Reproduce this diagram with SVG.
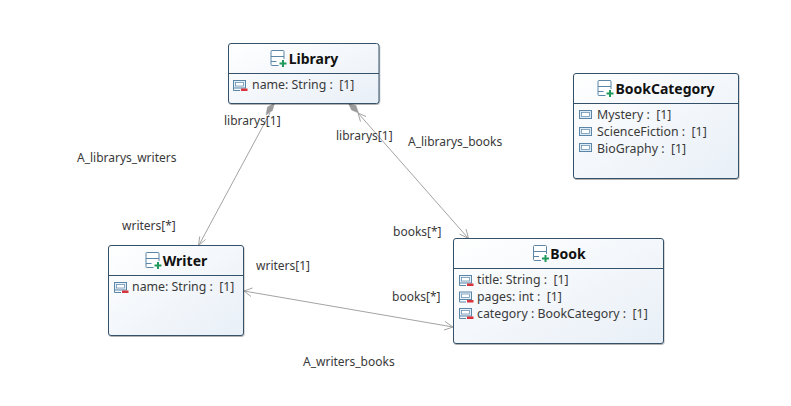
<svg xmlns="http://www.w3.org/2000/svg" width="791" height="406" viewBox="0 0 791 406">
<style>
text{font-family:"Noto Sans","Open Sans","Liberation Sans",sans-serif;fill:#3a3a3a;white-space:pre}
.lbl{font-size:12px}
.attr{font-size:12.350px}
.title{font-size:14px;font-weight:700;fill:#111;text-anchor:middle}
.box{fill:url(#g);stroke:#34516b;stroke-width:1}
.sep{stroke:#34516b;stroke-width:1}
.conn{stroke:#a3a3a3;stroke-width:1;fill:none}
.head{stroke:#a3a3a3;stroke-width:1;fill:none}
.dia{fill:#9a9a9a;stroke:#9a9a9a;stroke-width:.5}
</style>
<defs>
<linearGradient id="g" x1="0" y1="0" x2="1" y2="1"><stop offset="0" stop-color="#fff"/><stop offset="1" stop-color="#e8eff7"/></linearGradient>
<filter id="s" x="-5%" y="-5%" width="110%" height="110%"><feDropShadow dx="0.5" dy="1" stdDeviation="0.7" flood-color="#000" flood-opacity=".3"/></filter>
<g id="classIcon"><path d="M13.500 9V1.500a1 1 0 0 0-1-1H1.500a1 1 0 0 0-1 1V14.500a1 1 0 0 0 1 1H8" fill="#fff" stroke="#5b86a8"/><path d="M.5 6.500H13.500M.5 11.500H6" stroke="#5b86a8" fill="none"/><path d="M11.500 10h2v2.500H16v2h-2.500V17h-2v-2.500H9v-2h2.500z" fill="#1f9a5a"/></g>
<g id="attrIcon"><rect x=".5" y=".5" width="12" height="7.500" fill="#e6f0f8" stroke="#5b86a8"/><rect x="2.500" y="2.500" width="8" height="3.500" fill="#fff" stroke="#5b86a8" stroke-width=".7"/><path d="M.5 8v2.500H7" fill="none" stroke="#5b86a8"/><rect x="8" y="8.500" width="6.500" height="2.500" fill="#d8343c"/></g>
<g id="litIcon"><rect x=".5" y=".5" width="12" height="8" fill="#dcebf6" stroke="#5b86a8"/><rect x="2.500" y="2.500" width="8" height="4" fill="#fff" stroke="#5b86a8" stroke-width=".7"/></g>
</defs>
<rect width="791" height="406" fill="#fff"/>
<g id="connectors">
<path class="conn" d="M270 113L199 245"/>
<path class="dia" d="M274.500 103L267.500 107L266 115L272.500 110.500Z"/>
<path class="head" d="M199.700 236.500L198.500 245.500L205.500 239.500"/>
<path class="conn" d="M358 113L468 238"/>
<path class="dia" d="M348.500 103.500L356 105.500L358.500 113L351.500 110Z"/>
<path class="head" d="M366 116.500L358 113L360.500 121.500"/>
<path class="head" d="M459.500 234L468.500 238.500L466 229"/>
<path class="conn" d="M244 291L453 327"/>
<path class="head" d="M252.500 288L244 291L251 296.500"/>
<path class="head" d="M445 321.500L453 327L444 330"/>
</g>
<g id="Library"><rect class="box" x="228.500" y="43.500" width="150.500" height="60" rx="2.500" filter="url(#s)"/><path class="sep" d="M229 73.500H379"/><use href="#classIcon" x="270.500" y="50"/><text class="title" x="313.500" y="64">Library</text><use href="#attrIcon" x="233" y="80"/><text class="attr" x="252" y="89">name: String :  [1]</text></g>
<g id="BookCategory"><rect class="box" x="573.500" y="73.500" width="165" height="105" rx="2.500" filter="url(#s)"/><path class="sep" d="M574 103.500H738"/><use href="#classIcon" x="597.500" y="80"/><text class="title" x="665" y="94">BookCategory</text><use href="#litIcon" x="579" y="110"/><text class="attr" x="597" y="119">Mystery :  [1]</text><use href="#litIcon" x="579" y="127"/><text class="attr" x="597" y="136">ScienceFiction :  [1]</text><use href="#litIcon" x="579" y="143"/><text class="attr" x="597" y="153">BioGraphy :  [1]</text></g>
<g id="Book"><rect class="box" x="453.500" y="238.500" width="210" height="105" rx="2.500" filter="url(#s)"/><path class="sep" d="M454 268.500H663"/><use href="#classIcon" x="533" y="245"/><text class="title" x="568" y="259">Book</text><use href="#attrIcon" x="459" y="275"/><text class="attr" x="477" y="284">title: String :  [1]</text><use href="#attrIcon" x="459" y="291.500"/><text class="attr" x="477" y="301">pages: int :  [1]</text><use href="#attrIcon" x="459" y="308"/><text class="attr" x="477" y="318">category : BookCategory :  [1]</text></g>
<g id="Writer"><rect class="box" x="108.500" y="245.500" width="135" height="90" rx="2.500" filter="url(#s)"/><path class="sep" d="M109 275.500H243"/><use href="#classIcon" x="145.500" y="252"/><text class="title" x="185" y="266">Writer</text><use href="#attrIcon" x="114" y="282"/><text class="attr" x="132" y="291">name: String :  [1]</text></g>
<g id="labels">
<text class="lbl" x="224" y="125">librarys[1]</text>
<text class="lbl" x="77" y="162">A_librarys_writers</text>
<text class="lbl" x="122" y="230">writers[*]</text>
<text class="lbl" x="336" y="140">librarys[1]</text>
<text class="lbl" x="408" y="146">A_librarys_books</text>
<text class="lbl" x="393" y="236">books[*]</text>
<text class="lbl" x="256" y="270">writers[1]</text>
<text class="lbl" x="392" y="301">books[*]</text>
<text class="lbl" x="303" y="366">A_writers_books</text>
</g>
</svg>
